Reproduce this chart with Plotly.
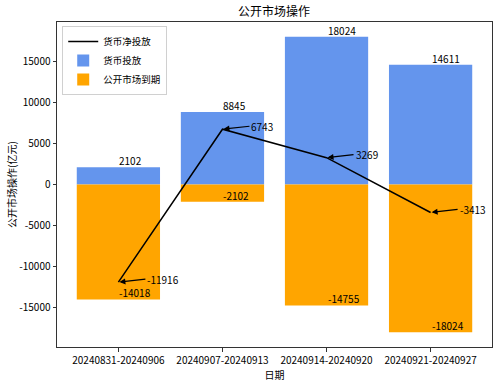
import plotly.graph_objects as go

categories = ["20240831-20240906", "20240907-20240913", "20240914-20240920", "20240921-20240927"]
injection = [2102, 8845, 18024, 14611]
maturity = [-14018, -2102, -14755, -18024]
net = [-11916, 6743, 3269, -3413]
y_ticks = [-15000, -10000, -5000, 0, 5000, 10000, 15000]

FONT = "Noto Sans CJK SC, DejaVu Sans, sans-serif"
BLUE = "#6495ED"
ORANGE = "#FFA500"

fig = go.Figure()
fig.add_trace(go.Bar(x=categories, y=injection, name="货币投放", marker_color=BLUE,
                     marker_line_width=0, width=0.8, legendrank=2))
fig.add_trace(go.Bar(x=categories, y=maturity, name="公开市场到期", marker_color=ORANGE,
                     marker_line_width=0, width=0.8, legendrank=3))
fig.add_trace(go.Scatter(x=categories, y=net, mode="lines", name="货币净投放",
                         line=dict(color="black", width=1.5), legendrank=1))

ann = []
for c, v in zip(categories, injection):
    ann.append(dict(x=c, y=v, text=str(v), showarrow=False, xanchor="left", yanchor="bottom",
                    xshift=-1, yshift=-3, font=dict(size=10, color="black", family=FONT)))
for c, v in zip(categories, maturity):
    ann.append(dict(x=c, y=v, text=str(v), showarrow=False, xanchor="left", yanchor="bottom",
                    xshift=-1, yshift=-3, font=dict(size=10, color="black", family=FONT)))
for c, v in zip(categories, net):
    ann.append(dict(x=c, y=v, text=str(v), showarrow=True, arrowhead=2, arrowsize=1,
                    arrowwidth=1.2, arrowcolor="black", ax=27, ay=-3, xanchor="left",
                    standoff=1, font=dict(size=10, color="black", family=FONT)))

fig.update_layout(
    width=500, height=382,
    margin=dict(l=57, r=8, t=22, b=35, autoexpand=False),
    paper_bgcolor="white", plot_bgcolor="white",
    barmode="overlay",
    font=dict(family=FONT, size=10, color="black"),
    title=dict(text="公开市场操作", x=0.548, xanchor="center", y=0.968, yanchor="middle",
               font=dict(size=12, family=FONT, color="black"), automargin=False),
    annotations=ann,
    legend=dict(x=0.012, y=0.988, xanchor="left", yanchor="top", bgcolor="rgba(255,255,255,0.8)",
                bordercolor="#d0d0d0", borderwidth=1, font=dict(size=9.5, family=FONT),
                traceorder="normal", itemwidth=30, tracegroupgap=0),
    showlegend=True,
)
fig.update_xaxes(range=[-0.59, 3.59], showline=True, linecolor="#333", linewidth=1, mirror=True,
                 ticks="outside", ticklen=3.5, tickcolor="#333", showgrid=False, automargin=False,
                 title=dict(text="日期", standoff=2, font=dict(size=10, family=FONT)),
                 tickfont=dict(size=10, family=FONT))
fig.update_yaxes(range=[-19826, 19826], tickvals=y_ticks, ticktext=[str(t) for t in y_ticks],
                 showline=True, linecolor="#333", linewidth=1, mirror=True, automargin=False,
                 ticks="outside", ticklen=3.5, tickcolor="#333", showgrid=False, zeroline=False,
                 title=dict(text="公开市场操作(亿元)", standoff=0, font=dict(size=10, family=FONT)),
                 tickfont=dict(size=10, family=FONT))

fig.write_html("out.html", config={"displayModeBar": False},
               post_script="document.body.style.margin='0';document.body.style.overflow='hidden';")
